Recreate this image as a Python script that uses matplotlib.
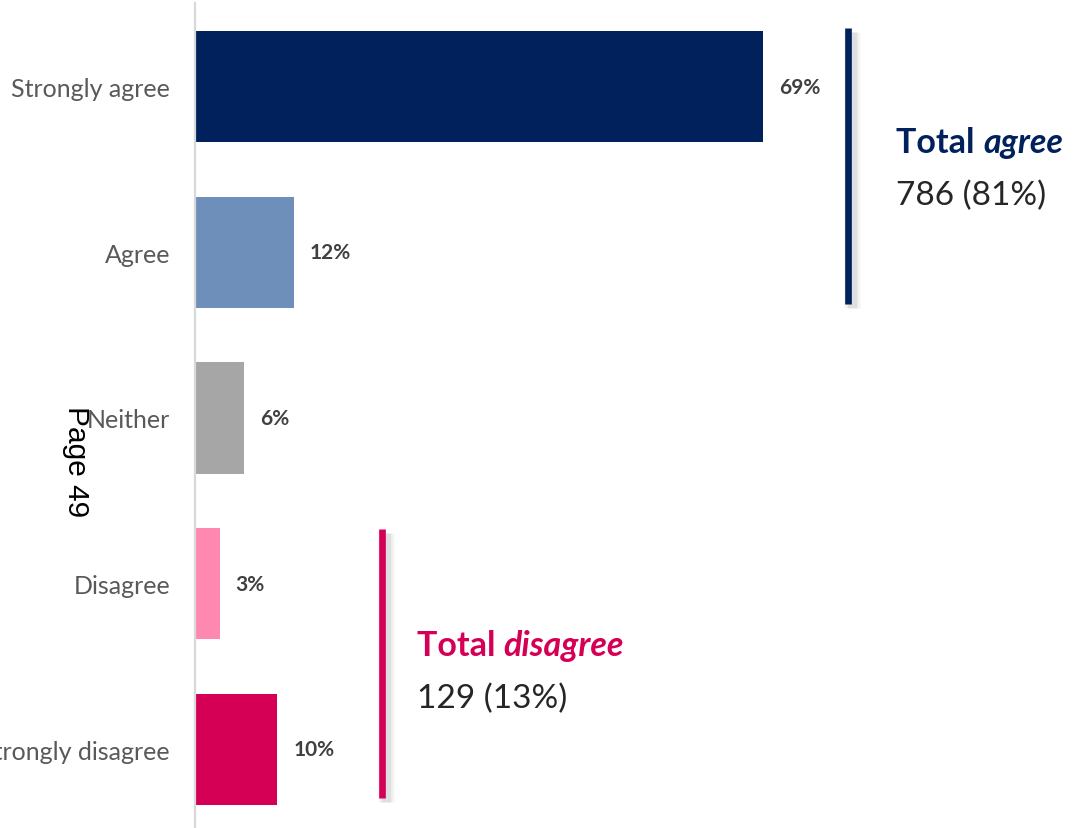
import matplotlib
matplotlib.use("Agg")
import matplotlib.pyplot as plt
import matplotlib.patheffects as pe
from matplotlib.transforms import offset_copy

# Survey responses
categories = ["Strongly agree", "Agree", "Neither", "Disagree", "Strongly disagree"]
percentages = [69, 12, 6, 3, 10]
bar_colors = ["#00215C", "#6E8FBA", "#A6A6A6", "#FF88B1", "#D50055"]

# Grouped totals shown beside the bars
agree_total = ("Total ", "agree", "786 (81%)")
disagree_total = ("Total ", "disagree", "129 (13%)")
navy = "#00215C"
crimson = "#D50055"

W, H = 1089, 829
fig = plt.figure(figsize=(W / 100, H / 100), dpi=100)
ax_left, ax_top = 195, 4
ax = fig.add_axes([ax_left / W, 0, 1 - ax_left / W, (H - ax_top) / H])

px_per_pct = 8.232
ax.set_xlim(0, (W - ax_left) / px_per_pct)
ax.set_ylim(4.474, -0.504)

y = list(range(len(categories)))
ax.barh(y, percentages, height=0.67, color=bar_colors)

for yi, v in zip(y, percentages):
    ax.annotate(f"{v}%", (v, yi), xytext=(11.5, 0), textcoords="offset points",
                ha="left", va="center", fontsize=15, fontweight="bold",
                color="#404040", family="Lato")

ax.set_yticks(y)
ax.set_yticklabels(categories, fontsize=18, color="#595959", family="Lato")
ax.tick_params(axis="y", length=0, pad=18)
ax.tick_params(axis="x", bottom=False, labelbottom=False)
for s in ["top", "right", "bottom"]:
    ax.spines[s].set_visible(False)
ax.spines["left"].set_color("#D9D9D9")
ax.spines["left"].set_linewidth(1.6)

# Soft drop shadow built from a few widening translucent strokes
shadow = [pe.SimpleLineShadow(offset=(3, -3), shadow_color="#808080", alpha=a,
                              rho=1.0, linewidth=lw)
          for lw, a in [(12, 0.06), (9, 0.08), (6.5, 0.12)]] + [pe.Normal()]


def bracket(x, y0, y1, color, title, stem, subtitle, tx, ty):
    ax.plot([x, x], [y0, y1], color=color, lw=4.8, solid_capstyle="butt",
            path_effects=shadow)
    t = ax.text(tx, ty, title, fontsize=24.5, fontweight="bold", color=color,
                family="Lato", ha="left", va="baseline")
    ax.annotate(stem, xycoords=t, xy=(1, 0), va="bottom", ha="left",
                fontsize=24.5, fontweight="bold", fontstyle="italic",
                color=color, family="Lato")
    below = offset_copy(ax.transData, fig=fig, x=0, y=-37.4, units="points")
    ax.text(tx, ty, subtitle, transform=below, va="baseline", ha="left",
            fontsize=24, color="#262626", family="Lato")


bracket(79.3, -0.355, 1.312, navy, *agree_total, 85.2, 0.395)
bracket(22.7, 2.67, 4.29, crimson, *disagree_total, 26.97, 3.43)

fig.text(76 / W, 1 - 462 / H, "Page 49", rotation=-90, ha="center", va="center",
         fontsize=21.5, color="black", family="Liberation Sans")

fig.savefig("out.png", dpi=100)
